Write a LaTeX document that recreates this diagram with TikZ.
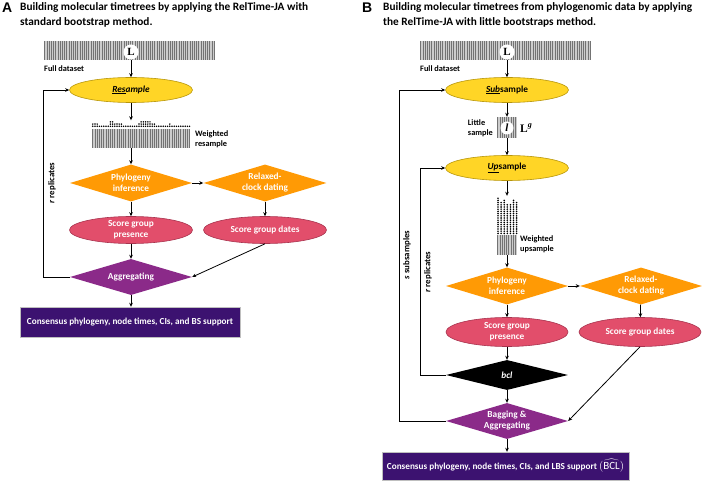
\documentclass[tikz,border=0pt]{standalone}
\usepackage{fontspec}
\setmainfont{Carlito}
\newfontfamily\serifL{Liberation Serif}
\newfontfamily\arialf{Liberation Sans}
\usetikzlibrary{shapes.geometric,arrows.meta}
\definecolor{yel}{HTML}{FFD526}
\definecolor{yelD}{HTML}{B8960A}
\definecolor{org}{HTML}{FF9A05}
\definecolor{pnk}{HTML}{E24E6B}
\definecolor{pnkD}{HTML}{A8344F}
\definecolor{prp}{HTML}{8B2A89}
\definecolor{dprp}{HTML}{3C1270}
\tikzset{
  yell/.style={ellipse, draw=yelD, line width=0.6pt, fill=yel, minimum width=123pt, minimum height=25pt, inner sep=0pt, font=\bfseries\fontsize{9.3}{10}\selectfont},
  pell/.style={ellipse, draw=pnkD, line width=0.6pt, fill=pnk, text=white, minimum width=123pt, minimum height=27pt, inner sep=-3pt, align=center, font=\bfseries\fontsize{9.3}{11}\selectfont},
  dia/.style={diamond, aspect=3.3, inner sep=-5pt, minimum width=122pt, minimum height=37pt, text=white, align=center, font=\bfseries\fontsize{9.3}{11}\selectfont},
  conbox/.style={rectangle, fill=dprp, draw=black!25, line width=0.4pt, text=white, inner sep=0pt, font=\bfseries\fontsize{9.2}{10}\selectfont},
  stripe/.style={line width=1.0pt, draw=black!55},
  stripebg/.style={fill=black!20},
  circL/.style={circle, fill=white, inner sep=0pt, minimum size=15pt, font=\serifL\bfseries\fontsize{11}{12}\selectfont},
  lbl/.style={font=\bfseries\fontsize{8.3}{9.5}\selectfont, align=left, inner sep=0pt},
  ttl/.style={font=\bfseries\fontsize{11.3}{12}\selectfont, anchor=base west, inner sep=0pt},
  big/.style={font=\arialf\bfseries\fontsize{14}{14}\selectfont, anchor=base west, inner sep=0pt},
  flow/.style={-{Stealth[length=4pt,width=3.6pt]}, line width=0.8pt},
  samplebox/.style={rectangle, inner sep=0pt, draw=none},
  dot/.style={fill=black},
  vlab/.style={font=\bfseries\fontsize{8.8}{9}\selectfont, rotate=90, inner sep=0pt},
}
\begin{document}
\begin{tikzpicture}[x=1pt,y=-1pt]
\useasboundingbox (0,0) rectangle (702,481);
% ---------------- Panel A ----------------
\node[big] (letA) at (2,13) {A};
\node[ttl] (tA1) at (20,11) {Building molecular timetrees by applying the RelTime-JA with};
\node[ttl] (tA2) at (20,26) {standard bootstrap method.};
% full dataset
\fill[stripebg] (44,41) rectangle (215,60);
\foreach \i in {0,...,77} \draw[stripe] ({44.8+2.2*\i},41) -- ++(0,19);
\node[samplebox, minimum width=171pt, minimum height=19pt] (fullA) at (129.5,50.5) {};
\node[circL] (LA) at (131,52) {L};
\node[lbl, anchor=west] (fdA) at (44,69) {Full dataset};
\node[yell] (resA) at (131,90) {\itshape\underline{Res}ample};
% weighted resample
\fill[stripebg] (92,129) rectangle (190,148);
\foreach \i in {0,...,44} \draw[stripe] ({92.8+2.2*\i},129) -- ++(0,19);
\foreach \i/\h in {0/2,1/2,2/2,3/1,4/1,5/1,6/1,7/1,8/3,9/3,10/2,11/2,12/2,13/2,14/1,15/1,16/1,17/1,18/1,19/1,20/1,21/2,22/3,23/3,24/3,25/3,26/3,27/2,28/2,29/1,30/1,31/1,32/1,33/1,34/1,35/2,36/1,37/1,38/1,39/1,40/1,41/1,42/1,43/1,44/1}
  \foreach \k in {1,...,\h} \fill[dot] ({92.8+2.2*\i},{128.5-2.2*\k}) circle (0.85pt);
\node[samplebox, minimum width=99pt, minimum height=28pt] (wresA) at (141,134.5) {};
\node[lbl, anchor=west] (wrlA) at (195,139) {Weighted\\resample};
\node[dia, fill=org] (phyA) at (131,183) {Phylogeny\\inference};
\node[dia, fill=org, minimum width=123pt] (relA) at (265,183) {Relaxed-\\clock dating};
\node[pell] (spA) at (131,230) {Score group\\presence};
\node[pell] (sdA) at (265,230) {Score group dates};
\node[dia, fill=prp, minimum height=36pt] (aggA) at (131,277) {Aggregating};
\node[conbox, minimum width=220pt, minimum height=30pt] (consA) at (130,322) {Consensus phylogeny, node times, CIs, and BS support};
\coordinate (lA1) at (43,277);
\coordinate (lA2) at (43,90);
\node[vlab] (rrA) at (52,183) {\textit{r} replicates};
\draw[flow] (LA) -- (resA);
\draw[flow] (resA) -- (resA.south |- wresA.north);
\draw[flow] (131,148) -- (phyA.north);
\draw[flow] (phyA) -- (relA);
\draw[flow] (phyA) -- (spA);
\draw[flow] (relA) -- (sdA);
\draw[flow] (spA) -- (aggA);
\draw[flow] (sdA.south) -- (aggA.east);
\draw[flow] (aggA) -- (consA.north -| aggA.south);
\draw[flow] (aggA.west) -- (lA1) -- (lA2) -- (resA.west);
% ---------------- Panel B ----------------
\node[big] (letB) at (362,13) {B};
\node[ttl] (tB1) at (383,11) {Building molecular timetrees from phylogenomic data by applying};
\node[ttl] (tB2) at (383,26) {the RelTime-JA with little bootstraps method.};
\fill[stripebg] (420,41) rectangle (591,60);
\foreach \i in {0,...,77} \draw[stripe] ({420.8+2.2*\i},41) -- ++(0,19);
\node[samplebox, minimum width=171pt, minimum height=19pt] (fullB) at (505.5,50.5) {};
\node[circL] (LB) at (507,52) {L};
\node[lbl, anchor=west] (fdB) at (420,69) {Full dataset};
\node[yell] (subB) at (507,90) {\underline{\itshape Sub}sample};
% little sample
\fill[stripebg] (497,117) rectangle (517,138);
\foreach \i in {0,...,8} \draw[stripe] ({497.8+2.2*\i},117) -- ++(0,21);
\node[samplebox, minimum width=20pt, minimum height=21pt] (litB) at (507,127.5) {};
\node[circle, fill=white, inner sep=0pt, minimum size=13pt, font=\serifL\bfseries\itshape\fontsize{11}{12}\selectfont] (lB) at (507,128) {l};
\node[lbl, anchor=east] (lsB) at (493,128) {Little\\sample};
\node[anchor=west, inner sep=0pt, font=\serifL\bfseries\fontsize{11.5}{12}\selectfont] (LgB) at (520,128) {L\textsuperscript{\itshape g}};
\node[yell] (upB) at (507,168) {\underline{\itshape Up}sample};
% weighted upsample
\fill[stripebg] (497,235) rectangle (517,255);
\foreach \i in {0,...,8} \draw[stripe] ({497.8+2.2*\i},235) -- ++(0,20);
\foreach \i/\h in {0/17,1/15,2/16,3/14,4/14,5/16,6/15}
  \foreach \k in {1,...,\h} \fill[dot] ({498+3.1*\i},{235-2.2*\k+0.6}) circle (0.9pt);
\node[samplebox, minimum width=22pt, minimum height=59pt] (wupB) at (507,225.5) {};
\node[lbl, anchor=west] (wulB) at (520,244) {Weighted\\upsample};
\node[dia, fill=org] (phyB) at (507,286) {Phylogeny\\inference};
\node[dia, fill=org] (relB) at (641,286) {Relaxed-\\clock dating};
\node[pell, minimum width=122pt, minimum height=29pt] (spB) at (507,332) {Score group\\presence};
\node[pell, minimum width=122pt, minimum height=29pt] (sdB) at (640,332) {Score group dates};
\node[dia, fill=black, minimum height=30pt] (bclB) at (507,375) {\itshape bcl};
\node[dia, fill=prp, minimum height=36pt] (bagB) at (507,421) {Bagging \&\\Aggregating};
\node[conbox, minimum width=247pt, minimum height=28pt] (consB) at (505.5,466) {Consensus phylogeny, node times, CIs, and LBS support\ {\fontsize{11}{12}\selectfont$(\widehat{\mathrm{BCL}})$}};
\coordinate (rB1) at (420,375);
\coordinate (rB2) at (420,168);
\coordinate (sB1) at (399,421);
\coordinate (sB2) at (399,90);
\node[vlab] (rrB) at (428,272) {\textit{r} replicates};
\node[vlab] (ssB) at (407,255) {\textit{s} subsamples};
\draw[flow] (LB) -- (subB);
\draw[flow] (subB) -- (subB.south |- litB.north);
\draw[flow] (litB) -- (upB);
\draw[flow] (upB) -- (upB.south |- wupB.north);
\draw[flow] (wupB) -- (phyB);
\draw[flow] (phyB) -- (relB);
\draw[flow] (phyB) -- (spB);
\draw[flow] (relB) -- (sdB);
\draw[flow] (spB) -- (bclB);
\draw[flow] (bclB) -- (bagB);
\draw[flow] (sdB.south) -- (bagB.east);
\draw[flow] (bagB) -- (consB.north -| bagB.south);
\draw[flow] (bclB.west) -- (rB1) -- (rB2) -- (upB.west);
\draw[flow] (bagB.west) -- (sB1) -- (sB2) -- (subB.west);
\end{tikzpicture}
\end{document}
